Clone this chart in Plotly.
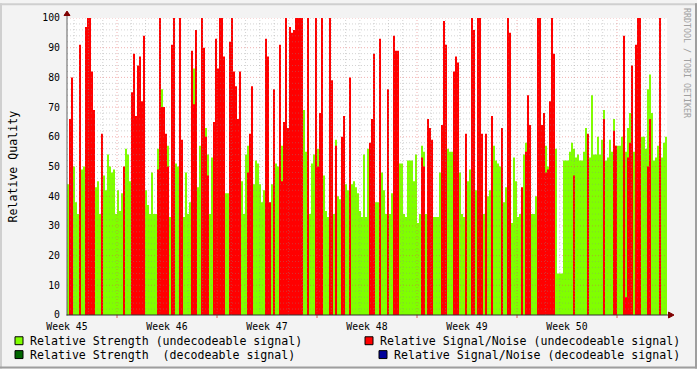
import plotly.graph_objects as go

# ---------------- data ----------------
WEEK_LABELS = ["Week 45", "Week 46", "Week 47", "Week 48", "Week 49", "Week 50"]
WEEK_POS = [0, 7, 14, 21, 28, 35]          # days from start of week 45
Y_TICKS = [0, 10, 20, 30, 40, 50, 60, 70, 80, 90, 100]

# Relative Strength (undecodeable signal), one value per 0.14-day step
STRENGTH_UNDEC = [
    44, 43, 43, 50, 38, 34, 40, 49, 50, 45, 45, 45, 45, 45, 43, 45, 34, 47, 47, 42,
    54, 50, 48, 49, 34, 42, 35, 41, 34, 56, 54, 45, 55, 50, 51, 50, 50, 50, 50, 42,
    37, 34, 48, 34, 34, 56, 50, 76, 60, 45,
    57, 33, 40, 40, 51, 50, 45, 45, 33, 48, 34, 38, 45, 83, 50, 43, 57, 50, 50, 63,
    54, 34, 53, 45, 50, 56, 50, 50, 57, 41, 41, 50, 50, 50, 50, 50, 38, 45, 34, 54,
    57, 50, 45, 44, 52, 51, 44, 38, 42, 46,
    46, 37, 44, 40, 51, 50, 50, 57, 50, 50, 50, 50, 55, 50, 50, 50, 50, 53, 69, 55,
    34, 34, 51, 54, 50, 56, 50, 44, 47, 35, 33, 50, 34, 34, 59, 40, 39, 33, 50, 44,
    42, 40, 44, 45, 43, 41, 35, 33, 54, 33,
    56, 50, 50, 50, 38, 38, 40, 48, 42, 34, 44, 34, 41, 50, 50, 50, 51, 51, 34, 33,
    52, 52, 52, 45, 54, 31, 34, 57, 55, 34, 34, 50, 33, 33, 33, 33, 48, 38, 50, 50,
    56, 55, 55, 50, 50, 50, 48, 34, 33, 50,
    45, 49, 50, 50, 42, 50, 50, 50, 34, 40, 40, 42, 46, 57, 52, 51, 50, 58, 38, 43,
    40, 34, 31, 53, 45, 33, 34, 34, 54, 58, 41, 34, 34, 34, 40, 49, 50, 50, 58, 57,
    50, 62, 84, 58, 56, 14, 14, 14, 52, 52,
    52, 55, 58, 56, 53, 54, 52, 52, 55, 63, 53, 53, 74, 54, 54, 60, 54, 59, 69, 52,
    53, 59, 55, 66, 57, 57, 57, 60, 60, 55, 63, 68, 60, 55, 61, 60, 60, 60, 60, 56,
    76, 81, 68, 52, 53, 57, 55, 53, 58, 60,
]

# Relative Signal/Noise (undecodeable signal), 0 where absent
SNR_UNDEC = [
    0, 66, 80, 0, 0, 0, 91, 0, 0, 97, 100, 100, 82, 69, 0, 0, 0, 61, 0, 0,
    0, 0, 0, 0, 0, 0, 0, 0, 50, 0, 0, 0, 75, 88, 67, 84, 87, 72, 94, 0,
    0, 0, 0, 0, 0, 49, 100, 70, 70, 61,
    50, 0, 91, 100, 0, 0, 100, 59, 0, 0, 0, 0, 89, 71, 96, 0, 0, 100, 90, 60,
    47, 0, 0, 65, 93, 83, 100, 100, 87, 0, 0, 92, 100, 82, 77, 66, 82, 0, 0, 0,
    48, 61, 77, 0, 0, 0, 0, 0, 0, 93,
    87, 38, 0, 76, 0, 0, 91, 45, 65, 100, 63, 97, 95, 96, 100, 100, 100, 100, 0, 0,
    100, 0, 0, 0, 100, 50, 68, 100, 0, 0, 0, 100, 79, 0, 57, 0, 0, 60, 67, 0,
    0, 80, 0, 0, 0, 0, 0, 0, 0, 0,
    0, 58, 66, 88, 0, 0, 93, 0, 0, 0, 76, 0, 0, 94, 89, 89, 0, 0, 0, 0,
    0, 0, 0, 0, 0, 0, 0, 53, 50, 0, 66, 63, 59, 0, 0, 0, 0, 64, 99, 91,
    0, 0, 0, 82, 87, 85, 0, 0, 0, 61,
    0, 0, 100, 96, 0, 100, 100, 61, 0, 61, 0, 0, 67, 0, 0, 0, 0, 63, 0, 0,
    100, 95, 0, 0, 0, 0, 0, 43, 0, 55, 74, 64, 0, 0, 0, 100, 100, 64, 68, 48,
    49, 72, 100, 88, 0, 0, 0, 0, 0, 0,
    0, 0, 0, 47, 0, 0, 0, 0, 0, 0, 61, 0, 0, 0, 0, 0, 0, 0, 66, 0,
    0, 0, 0, 62, 57, 0, 0, 0, 94, 6, 53, 58, 84, 0, 91, 100, 100, 0, 0, 0,
    50, 66, 0, 0, 0, 0, 100, 0, 0, 0,
]

# decodeable series: no samples in this period
STRENGTH_DEC = []
SNR_DEC = []

STEP = 0.14  # days per sample

LEGEND = [
    ("Relative Strength (undecodeable signal)", "#80FF00"),
    ("Relative Strength\u00a0 (decodeable signal)", "#006600"),
    ("Relative Signal/Noise (undecodeable signal)", "#FF0000"),
    ("Relative Signal/Noise (decodeable signal)", "#000099"),
]

# ---------------- geometry (pixels) ----------------
W, H = 697, 369
PL, PR, PT, PB = 67, 667, 15, 315
FONT = "DejaVu Sans Mono"


def fx(px):
    return (px - PL) / (PR - PL)


def fy(py):
    return (PB - py) / (PB - PT)


def step_area(values, color, name):
    """RRD-style AREA: stepped fill from zero."""
    n = len(values)
    xs = [STEP * i for i in range(n + 1)] if n else []
    ys = list(values) + ([values[-1]] if n else [])
    return go.Scatter(x=xs, y=ys, mode="lines", line=dict(shape="hv", width=0, color=color),
                      fill="tozeroy", fillcolor=color, name=name, hoverinfo="skip")


fig = go.Figure()
fig.add_trace(step_area(STRENGTH_UNDEC, "#80FF00", LEGEND[0][0]))
fig.add_trace(step_area(STRENGTH_DEC, "#006600", LEGEND[1][0]))
fig.add_trace(step_area(SNR_UNDEC, "#FF0000", LEGEND[2][0]))
fig.add_trace(step_area(SNR_DEC, "#000099", LEGEND[3][0]))

shapes = []
GRID = "rgba(140,140,140,0.38)"
MGRID = "rgba(225,80,80,0.45)"
DASH = "1px,2px"
# horizontal grid
for v in range(2, 101, 2):
    shapes.append(dict(type="line", xref="x", yref="y", x0=0, x1=42, y0=v, y1=v, layer="above",
                       line=dict(color=MGRID if v % 10 == 0 else GRID, width=1, dash=DASH)))
# vertical grid
for k in range(42):
    d = 0.5 + k
    major = (k - 3) % 7 == 0
    shapes.append(dict(type="line", xref="x", yref="y", x0=d, x1=d, y0=0, y1=100, layer="above",
                       line=dict(color=MGRID if major else GRID, width=1, dash=DASH)))
    if major:
        shapes.append(dict(type="line", xref="x", yref="paper", x0=d, x1=d, y0=fy(315), y1=fy(318),
                           line=dict(color="#E05050", width=1)))

# axes
shapes.append(dict(type="line", xref="paper", yref="paper", x0=fx(67), x1=fx(67), y0=fy(315.5), y1=fy(10),
                   line=dict(color="#606060", width=1), layer="above"))
shapes.append(dict(type="line", xref="paper", yref="paper", x0=fx(66.5), x1=fx(670), y0=fy(315), y1=fy(315),
                   line=dict(color="#303030", width=1), layer="above"))
# arrows
shapes.append(dict(type="path", xref="paper", yref="paper", layer="above",
                   path=f"M {fx(64)} {fy(12.5)} L {fx(70)} {fy(12.5)} L {fx(67)} {fy(8)} Z",
                   fillcolor="#7F0000", line=dict(color="#7F0000", width=1)))
shapes.append(dict(type="path", xref="paper", yref="paper", layer="above",
                   path=f"M {fx(668.5)} {fy(312)} L {fx(668.5)} {fy(318)} L {fx(674)} {fy(315)} Z",
                   fillcolor="#7F0000", line=dict(color="#7F0000", width=1)))

# frame shading
shapes.append(dict(type="rect", xref="paper", yref="paper", x0=fx(0), x1=fx(W), y0=fy(0), y1=fy(2),
                   fillcolor="#CFCFCF", line=dict(width=0)))
shapes.append(dict(type="rect", xref="paper", yref="paper", x0=fx(0), x1=fx(2), y0=fy(0), y1=fy(H),
                   fillcolor="#CFCFCF", line=dict(width=0)))
shapes.append(dict(type="rect", xref="paper", yref="paper", x0=fx(0), x1=fx(W), y0=fy(H - 2), y1=fy(H),
                   fillcolor="#9E9E9E", line=dict(width=0)))
shapes.append(dict(type="rect", xref="paper", yref="paper", x0=fx(W - 2), x1=fx(W), y0=fy(0), y1=fy(H),
                   fillcolor="#9E9E9E", line=dict(width=0)))

annotations = []
# legend
LEG_POS = [(15, 341, 30), (15, 355, 30), (365, 341, 380), (379, 355, 394)]
for (label, color), (sx, sy, tx) in zip(LEGEND, LEG_POS):
    shapes.append(dict(type="rect", xref="paper", yref="paper", x0=fx(sx), x1=fx(sx + 8),
                       y0=fy(sy - 4), y1=fy(sy + 4), fillcolor=color, line=dict(color="#000000", width=1)))
    annotations.append(dict(text=label, xref="paper", yref="paper", x=fx(tx - 2), y=fy(sy),
                            xanchor="left", yanchor="middle", showarrow=False,
                            font=dict(family=FONT, size=11.6, color="#000000")))

annotations.append(dict(text="Relative Quality", xref="paper", yref="paper", x=fx(12), y=fy(165),
                        xanchor="center", yanchor="middle", textangle=-90, showarrow=False,
                        font=dict(family=FONT, size=11.6, color="#000000")))
annotations.append(dict(text="RRDTOOL / TOBI OETIKER", xref="paper", yref="paper", x=fx(687.5), y=fy(60),
                        xanchor="center", yanchor="middle", textangle=90, showarrow=False,
                        font=dict(family=FONT, size=8.3, color="#A0A0A0")))

fig.update_layout(
    width=W, height=H, autosize=False,
    margin=dict(l=PL, r=W - PR, t=PT, b=H - PB, pad=0),
    paper_bgcolor="#F3F3F3", plot_bgcolor="#FFFFFF",
    showlegend=False,
    shapes=shapes, annotations=annotations,
    xaxis=dict(range=[0, 42], tickvals=WEEK_POS, ticktext=WEEK_LABELS, showgrid=False, zeroline=False,
               showline=False, ticks="", ticklabelstandoff=4,
               tickfont=dict(family=FONT, size=9.8, color="#000000"), fixedrange=True),
    yaxis=dict(range=[0, 100], tickvals=Y_TICKS, showgrid=False, zeroline=False, showline=False,
               ticks="", ticklabelstandoff=6,
               tickfont=dict(family=FONT, size=9.8, color="#000000"), fixedrange=True),
)

fig.write_html("out.html")
